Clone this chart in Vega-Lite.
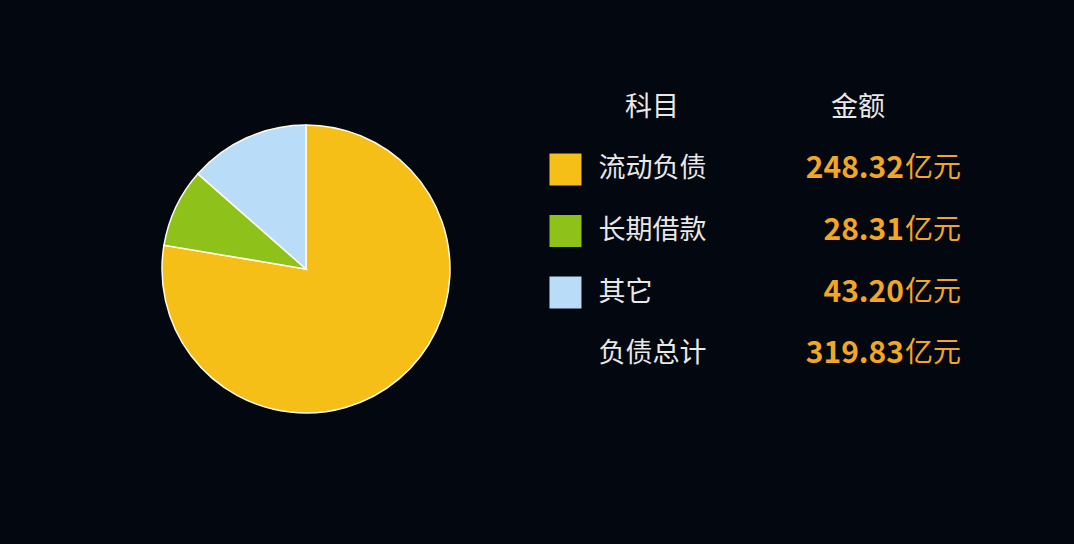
{
  "$schema": "https://vega.github.io/schema/vega-lite/v6.json",
  "background": "#03070f",
  "padding": {"left": 159, "top": 77, "right": 119, "bottom": 83},
  "autosize": {"type": "pad"},
  "config": {"view": {"stroke": null}, "font": "Noto Sans CJK SC"},
  "data": {"values": [
    {"idx": 1, "item": "流动负债", "amount": 248.32},
    {"idx": 2, "item": "长期借款", "amount": 28.31},
    {"idx": 3, "item": "其它", "amount": 43.20},
    {"idx": 4, "item": "负债总计", "amount": 319.83}
  ]},
  "spacing": 96,
  "hconcat": [
    {
      "width": 288,
      "height": 384,
      "transform": [{"filter": "datum.idx <= 3"}],
      "mark": {"type": "arc", "stroke": "#fffbe8", "strokeWidth": 1.5},
      "encoding": {
        "theta": {"field": "amount", "type": "quantitative", "stack": true},
        "color": {"field": "item", "type": "nominal",
          "scale": {"domain": ["流动负债", "长期借款", "其它"], "range": ["#f5bf18", "#8ec21a", "#b9dcf9"]},
          "legend": null},
        "order": {"field": "idx", "type": "quantitative"}
      }
    },
    {
      "width": 412,
      "height": 308,
      "encoding": {
        "y": {"field": "item", "type": "nominal",
          "scale": {"type": "band", "domain": ["header", "流动负债", "长期借款", "其它", "负债总计"], "paddingInner": 0, "paddingOuter": 0},
          "axis": null}
      },
      "layer": [
        {
          "data": {"values": [{"h": "科目"}, {"h": "金额"}]},
          "mark": {"type": "text", "fontSize": 27, "color": "#e8e8e8"},
          "encoding": {
            "x": {"field": "h", "type": "nominal", "bandPosition": 0.5, "scale": {"type": "band", "domain": ["科目", "金额"], "paddingInner": 0, "paddingOuter": 0}, "axis": null},
            "y": {"datum": "header", "type": "nominal"},
            "text": {"field": "h"}
          }
        },
        {
          "transform": [{"filter": "datum.idx <= 3"}],
          "mark": {"type": "square", "size": 1024, "filled": true, "opacity": 1},
          "encoding": {
            "x": {"datum": "科目", "type": "nominal", "bandPosition": 0.08},
            "color": {"field": "item", "type": "nominal",
              "scale": {"domain": ["流动负债", "长期借款", "其它"], "range": ["#f5bf18", "#8ec21a", "#b9dcf9"]},
              "legend": null}
          }
        },
        {
          "mark": {"type": "text", "fontSize": 27, "color": "#e8e8e8", "align": "left"},
          "encoding": {
            "x": {"datum": "科目", "type": "nominal", "bandPosition": 0.24},
            "text": {"field": "item"}
          }
        },
        {
          "mark": {"type": "text", "fontSize": 30, "fontWeight": "bold", "color": "#f2a623", "align": "right", "dx": -57},
          "encoding": {
            "x": {"datum": "金额", "type": "nominal", "bandPosition": 1},
            "text": {"field": "amount", "type": "quantitative", "format": ".2f"}
          }
        },
        {
          "mark": {"type": "text", "fontSize": 28, "color": "#f2a623", "align": "right"},
          "encoding": {
            "x": {"datum": "金额", "type": "nominal", "bandPosition": 1},
            "text": {"value": "亿元"}
          }
        }
      ]
    }
  ]
}
